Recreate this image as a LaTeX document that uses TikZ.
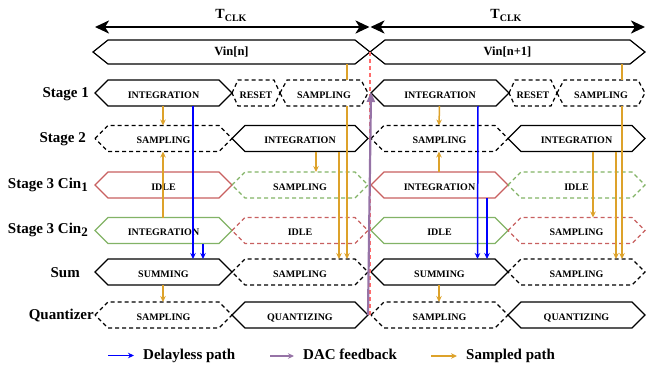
\documentclass[tikz,border=0pt]{standalone}
\usepackage{fontspec}
\setmainfont{Liberation Serif}
\usetikzlibrary{arrows.meta}
\definecolor{cred}{HTML}{C86060}
\definecolor{cgreen}{HTML}{82B366}
\definecolor{corange}{HTML}{DDA22A}
\definecolor{cpurple}{HTML}{9673A6}
\definecolor{cblue}{HTML}{0000FF}
\definecolor{cpink}{HTML}{FF6B6B}
% name, x1, x2, y, slant, draw style, node style, text
\newcommand\hexnode[8]{%
  \node[#7, minimum width={#3-#2}] (#1) at ({(#2+#3)/2},#4) {#8};
  \draw[#6] (#1.west) -- ([xshift=#5]#1.north west) -- ([xshift=-#5]#1.north east)
    -- (#1.east) -- ([xshift=-#5]#1.south east) -- ([xshift=#5]#1.south west) -- cycle;}
\begin{document}
\begin{tikzpicture}[x=1pt,y=-1pt,
  boxtext/.style={inner sep=0pt, outer sep=0pt, minimum height=26pt,
    text height=10.5pt, text depth=0pt, font=\fontsize{10}{12}\selectfont\bfseries},
  vintext/.style={inner sep=0pt, outer sep=0pt, minimum height=24pt,
    font=\fontsize{12.5}{14}\selectfont\bfseries},
  hexs/.style={line width=1.2pt, line join=miter},
  hexd/.style={hexs, dash pattern=on 4pt off 3pt},
  hexr/.style={hexs, draw=cred},
  hexg/.style={hexs, draw=cgreen},
  hexrd/.style={hexd, draw=cred},
  hexgd/.style={hexd, draw=cgreen},
  lab/.style={anchor=base east, inner sep=0pt, font=\fontsize{15}{17}\selectfont\bfseries},
  legtext/.style={anchor=base west, inner sep=0pt, font=\fontsize{15}{17}\selectfont\bfseries},
  clk/.style={line width=2.6pt,
    {Stealth[length=14pt,width=13pt,inset=4pt]}-{Stealth[length=14pt,width=13pt,inset=4pt]}},
  samp/.style={draw=corange, line width=1.5pt, -{Stealth[length=6pt,width=5.5pt]}},
  sampline/.style={draw=corange, line width=1.5pt},
  dless/.style={draw=cblue, line width=1.5pt, -{Stealth[length=6pt,width=5.5pt]}},
  dacfb/.style={draw=cpurple, line width=2.2pt, -{Triangle[length=10pt,width=8pt]}},
  legarrow/.style={line width=1.4pt, -{Stealth[length=6pt,width=5.5pt]}},
  clkline/.style={draw=cpink, line width=1.2pt, dash pattern=on 4pt off 3pt}
]
\useasboundingbox (0,0) rectangle (646,368);

% clock period arrows
\coordinate (ta) at (95,27);
\coordinate (tma) at (369.5,27);
\coordinate (tmb) at (370.5,27);
\coordinate (tb) at (645,27);
\draw[clk] (ta) -- (tma);
\draw[clk] (tmb) -- (tb);
\node[font=\fontsize{14}{16}\selectfont\bfseries] (tclka) at (231,15)
  {T\raisebox{-3pt}{\fontsize{10}{10}\selectfont CLK}};
\node[font=\fontsize{14}{16}\selectfont\bfseries] (tclkb) at (506,15)
  {T\raisebox{-3pt}{\fontsize{10}{10}\selectfont CLK}};

% input
\hexnode{vina}{93}{370}{52}{15}{hexs}{vintext}{Vin[n]}
\hexnode{vinb}{370}{645}{52}{15}{hexs}{vintext}{Vin[n+1]}

% row labels
\node[lab] (l1) at (89,97) {Stage 1};
\node[lab] (l2) at (86,142.5) {Stage 2};
\node[lab] (l3) at (88,188) {Stage 3 Cin\raisebox{-3pt}{\fontsize{13}{13}\selectfont 1}};
\node[lab] (l4) at (88,233.5) {Stage 3 Cin\raisebox{-3pt}{\fontsize{13}{13}\selectfont 2}};
\node[lab] (l5) at (80,277) {Sum};
\node[lab] (l6) at (94,319) {Quantizer};

% Stage 1
\hexnode{s1a}{95}{232}{93}{13}{hexs}{boxtext}{INTEGRATION}
\hexnode{s1ra}{232}{280}{93}{6}{hexd}{boxtext}{RESET}
\hexnode{s1sa}{280}{368}{93}{7}{hexd}{boxtext}{SAMPLING}
\hexnode{s1c}{371}{509}{93}{13}{hexs}{boxtext}{INTEGRATION}
\hexnode{s1rc}{509}{557}{93}{6}{hexd}{boxtext}{RESET}
\hexnode{s1sc}{557}{645}{93}{7}{hexd}{boxtext}{SAMPLING}

% Stage 2
\hexnode{s2a}{95}{232}{138.5}{13}{hexd}{boxtext}{SAMPLING}
\hexnode{s2b}{232}{368}{138.5}{13}{hexs}{boxtext}{INTEGRATION}
\hexnode{s2c}{371}{508}{138.5}{13}{hexd}{boxtext}{SAMPLING}
\hexnode{s2d}{508}{645}{138.5}{13}{hexs}{boxtext}{INTEGRATION}

% Stage 3 Cin1
\hexnode{c1a}{95}{232}{185}{13}{hexr}{boxtext}{IDLE}
\hexnode{c1b}{232}{368}{185}{13}{hexgd}{boxtext}{SAMPLING}
\hexnode{c1c}{371}{508}{185}{13}{hexr}{boxtext}{INTEGRATION}
\hexnode{c1d}{508}{645}{185}{13}{hexgd}{boxtext}{IDLE}

% Stage 3 Cin2
\hexnode{c2a}{95}{232}{230.5}{13}{hexg}{boxtext}{INTEGRATION}
\hexnode{c2b}{232}{368}{230.5}{13}{hexrd}{boxtext}{IDLE}
\hexnode{c2c}{371}{508}{230.5}{13}{hexg}{boxtext}{IDLE}
\hexnode{c2d}{508}{645}{230.5}{13}{hexrd}{boxtext}{SAMPLING}

% Sum
\hexnode{suma}{95}{232}{272}{13}{hexs}{boxtext}{SUMMING}
\hexnode{sumb}{232}{368}{272}{13}{hexd}{boxtext}{SAMPLING}
\hexnode{sumc}{371}{508}{272}{13}{hexs}{boxtext}{SUMMING}
\hexnode{sumd}{508}{645}{272}{13}{hexd}{boxtext}{SAMPLING}

% Quantizer
\hexnode{qa}{95}{232}{315}{13}{hexd}{boxtext}{SAMPLING}
\hexnode{qb}{232}{368}{315}{13}{hexs}{boxtext}{QUANTIZING}
\hexnode{qc}{371}{508}{315}{13}{hexd}{boxtext}{SAMPLING}
\hexnode{qd}{508}{645}{315}{13}{hexs}{boxtext}{QUANTIZING}

% sampled paths, first period
\draw[samp] ([xshift=-0.5pt]s1a.south) -- ([xshift=-0.5pt]s2a.north);
\draw[samp] ([xshift=-0.5pt]c2a.north) -- ([xshift=-0.5pt]s2a.south);
\draw[samp] ([xshift=-0.5pt]suma.south) -- ([xshift=-0.5pt]qa.north);
\draw[samp] ([xshift=16pt]s2b.south) -- ([xshift=16pt]c1b.north);
\draw[samp] ([xshift=39pt]s2b.south) -- ([xshift=39pt]sumb.north);
\draw[sampline] ([xshift=115.5pt]vina.south) -- ([xshift=23pt]s1sa.north);
\draw[samp] ([xshift=23pt]s1sa.south) -- ([xshift=47pt]sumb.north);

% sampled paths, second period
\draw[samp] ([xshift=-0.5pt]s1c.south) -- ([xshift=-0.5pt]s2c.north);
\draw[samp] ([xshift=-0.5pt]c1c.north) -- ([xshift=-0.5pt]s2c.south);
\draw[samp] ([xshift=-0.5pt]sumc.south) -- ([xshift=-0.5pt]qc.north);
\draw[samp] ([xshift=16.5pt]s2d.south) -- ([xshift=16.5pt]c2d.north);
\draw[samp] ([xshift=39.5pt]s2d.south) -- ([xshift=39.5pt]sumd.north);
\draw[sampline] ([xshift=114.5pt]vinb.south) -- ([xshift=21pt]s1sc.north);
\draw[samp] ([xshift=21pt]s1sc.south) -- ([xshift=45.5pt]sumd.north);

% delayless paths
\draw[dless] ([xshift=29.5pt]s1a.south) -- ([xshift=29.5pt]suma.north);
\draw[dless] ([xshift=39.5pt]c2a.south) -- ([xshift=39.5pt]suma.north);
\draw[dless] ([xshift=38pt]s1c.south) -- ([xshift=38pt]sumc.north);
\draw[dless] ([xshift=47.5pt]c1c.south) -- ([xshift=47.5pt]sumc.north);

% period boundary and DAC feedback
\draw[clkline] (vina.east) -- (vina.east |- qb.east);
\draw[dacfb] (qb.east) -- ([yshift=1pt]s1c.west);

% legend
\coordinate (lg1a) at (108,355.5);
\coordinate (lg1b) at (134,355.5);
\draw[legarrow, draw=cblue] (lg1a) -- (lg1b);
\node[legtext] (lg1) at (143,359) {Delayless path};
\coordinate (lg2a) at (270,356);
\coordinate (lg2b) at (294,356);
\draw[legarrow, draw=cpurple] (lg2a) -- (lg2b);
\node[legtext] (lg2) at (303,359) {DAC feedback};
\coordinate (lg3a) at (431,356);
\coordinate (lg3b) at (457,356);
\draw[legarrow, draw=corange] (lg3a) -- (lg3b);
\node[legtext] (lg3) at (466,359) {Sampled path};
\end{tikzpicture}
\end{document}
